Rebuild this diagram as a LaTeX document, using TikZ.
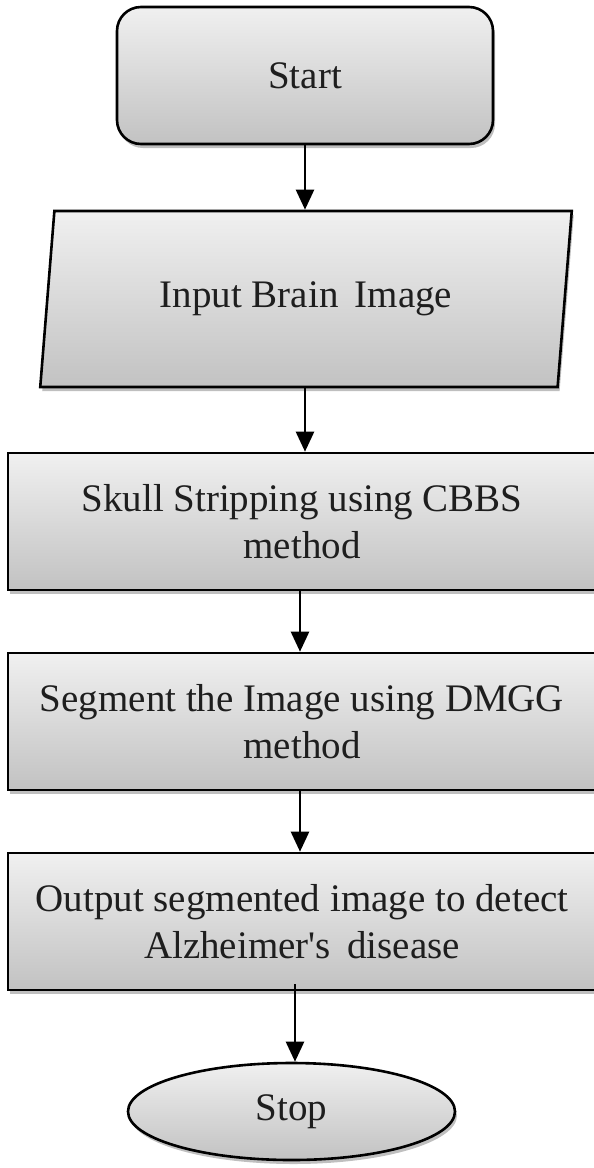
\documentclass[tikz,border=0pt]{standalone}
\usepackage{fontspec}
\setmainfont{Liberation Serif}
\usetikzlibrary{shapes.geometric,arrows.meta,shadows}
\definecolor{ftop}{HTML}{F0F0F0}
\definecolor{fbot}{HTML}{C2C2C2}
\definecolor{txt}{HTML}{1E1E1E}
\begin{document}
\begin{tikzpicture}[x=1pt,y=-1pt,
  shaded/.style={draw=black, line width=2.6pt, top color=ftop, bottom color=fbot,
    drop shadow={shadow xshift=2pt, shadow yshift=-4pt, opacity=0.25, fill=black},
    text=txt, font=\fontsize{39}{47}\selectfont, align=center, inner sep=0pt},
  startbox/.style={shaded, rectangle, rounded corners=24pt, minimum width=376pt, minimum height=137pt},
  iobox/.style={shaded, trapezium, trapezium left angle=76.5, trapezium right angle=103.5,
    trapezium stretches=true, minimum width=532pt, minimum height=176pt},
  procbox/.style={shaded, rectangle, minimum width=588pt, minimum height=137pt},
  endbox/.style={shaded, ellipse, minimum width=327pt, minimum height=97pt},
  arr/.style={line width=2.4pt, -{Triangle[width=18pt,length=20pt]}}]
\useasboundingbox (0,0) rectangle (594,1168);
\node[startbox] (start) at (305,75.5) {Start};
\node[iobox] (inp) at (306,299) {Input Brain\, Image};
\node[procbox] (s1) at (302,521.5) {Skull Stripping using CBBS\\method};
\node[procbox] (s2) at (302,721.5) {Segment the Image using DMGG\\method};
\node[procbox] (s3) at (302,921.5) {Output segmented image to detect\\Alzheimer\textquotesingle s\, disease};
\node[endbox] (stop) at (291.5,1111.5) {Stop};
\draw[arr] (start.south) -- (start.south |- inp.north);
\draw[arr] (inp.south -| start.south) -- (start.south |- s1.north);
\draw[arr] ([xshift=-2pt]s1.south) -- ([xshift=-2pt]s2.north);
\draw[arr] ([xshift=-2pt]s2.south) -- ([xshift=-2pt]s3.north);
\draw[arr] ([xshift=-7pt,yshift=7pt]s3.south) -- ([xshift=3.5pt]stop.north);
\end{tikzpicture}
\end{document}
